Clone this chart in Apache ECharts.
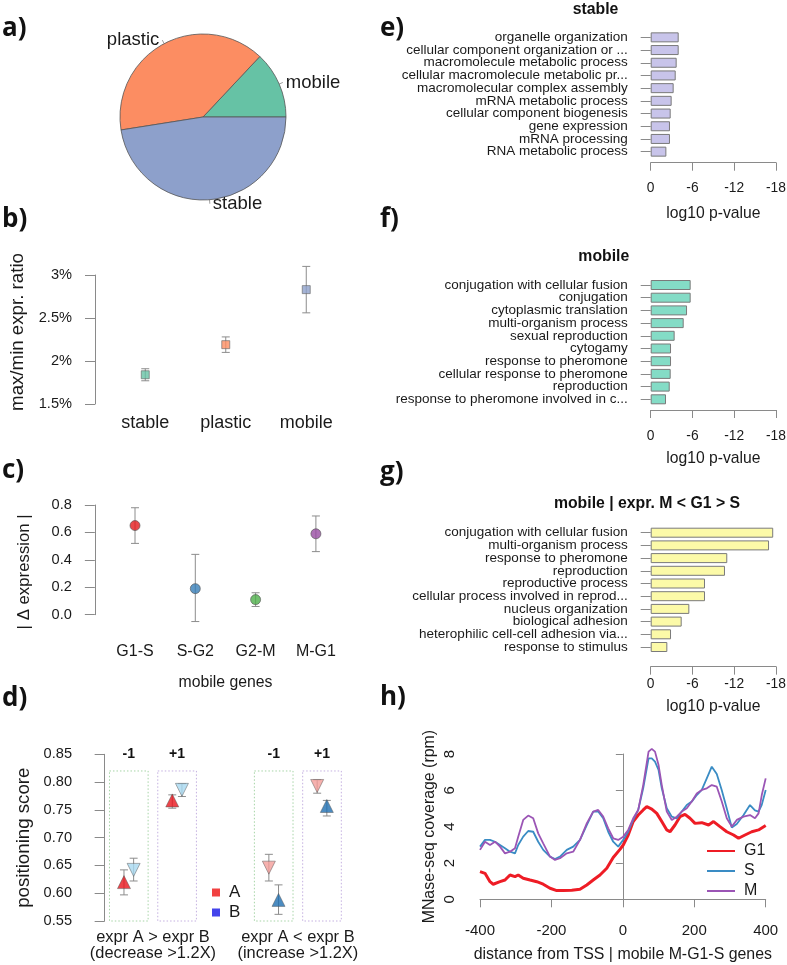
<!DOCTYPE html>
<html><head><meta charset="utf-8">
<script src="https://cdn.jsdelivr.net/npm/echarts@6/dist/echarts.min.js"></script>
<style>html,body{margin:0;padding:0;background:#fff}#c{width:787px;height:965px}</style>
</head><body><div id="c"></div>
<script>
// ---------- data ----------
const pieCats = ['mobile', 'plastic', 'stable'];
const pieVals = [13, 39.5, 47.5];

const ratioCats = ['stable', 'plastic', 'mobile'];
const ratioMean = [1.84, 2.19, 2.83];
const ratioLow = [1.77, 2.10, 2.56];
const ratioHigh = [1.91, 2.28, 3.10];

const phaseCats = ['G1-S', 'S-G2', 'G2-M', 'M-G1'];
const deltaMean = [0.65, 0.19, 0.11, 0.59];
const deltaLow = [0.52, -0.05, 0.06, 0.46];
const deltaHigh = [0.78, 0.44, 0.16, 0.72];

const boxLabels = ['-1', '+1', '-1', '+1'];
const groupLabels = ['expr A > expr B\n(decrease >1.2X)', 'expr A < expr B\n(increase >1.2X)'];
const posA = [0.620, 0.767, 0.646, 0.793];
const posALow = [0.597, 0.753, 0.622, 0.780];
const posAHigh = [0.642, 0.777, 0.670, 0.804];
const posB = [0.642, 0.786, 0.588, 0.757];
const posBLow = [0.622, 0.774, 0.562, 0.739];
const posBHigh = [0.663, 0.797, 0.615, 0.767];

const stableTerms = ['organelle organization', 'cellular component organization or ...', 'macromolecule metabolic process', 'cellular macromolecule metabolic pr...', 'macromolecular complex assembly', 'mRNA metabolic process', 'cellular component biogenesis', 'gene expression', 'mRNA processing', 'RNA metabolic process'];
const stableLogP = [-4.02, -4.02, -3.73, -3.59, -3.30, -3.01, -2.87, -2.77, -2.77, -2.25];
const mobileTerms = ['conjugation with cellular fusion', 'conjugation', 'cytoplasmic translation', 'multi-organism process', 'sexual reproduction', 'cytogamy', 'response to pheromone', 'cellular response to pheromone', 'reproduction', 'response to pheromone involved in c...'];
const mobileLogP = [-5.74, -5.74, -5.22, -4.74, -3.44, -2.92, -2.92, -2.87, -2.73, -2.20];
const mgsTerms = ['conjugation with cellular fusion', 'multi-organism process', 'response to pheromone', 'reproduction', 'reproductive process', 'cellular process involved in reprod...', 'nucleus organization', 'biological adhesion', 'heterophilic cell-cell adhesion via...', 'response to stimulus'];
const mgsLogP = [-17.6, -17.0, -11.0, -10.67, -7.8, -7.8, -5.55, -4.45, -2.92, -2.39];

const g1Dist = [-400,-386,-372,-363,-344,-330,-316,-302,-293,-279,-260,-241,-223,-204,-185,-167,-143,-120,-101,-83,-64,-45,-27,-8,1,15,29,43,57,67,81,95,109,123,132,146,160,174,188,202,221,240,254,272,291,310,324,342,361,380,400];
const g1Cov = [1.52,1.43,0.97,0.83,0.97,1.06,1.34,1.25,1.34,1.16,1.06,0.97,0.83,0.61,0.48,0.48,0.50,0.55,0.79,1.06,1.34,1.71,2.30,2.75,2.99,3.54,4.28,4.64,4.92,5.10,4.97,4.73,4.28,3.82,3.72,4.09,4.55,4.68,4.46,4.18,4.22,4.09,4.28,4.00,3.72,3.54,3.36,3.54,3.72,3.82,4.06];
const smDist = [-400,-386,-372,-358,-344,-330,-316,-302,-293,-279,-265,-251,-237,-223,-204,-190,-176,-157,-139,-120,-101,-83,-69,-55,-41,-27,-13,1,15,29,43,57,72,81,90,100,109,123,137,151,165,179,193,207,221,235,249,263,277,291,305,319,338,356,370,380,389,400];
const sCov = [2.90,3.27,3.27,3.17,2.99,2.81,2.62,2.53,2.99,3.45,3.76,3.72,3.17,2.72,2.35,2.22,2.35,2.72,2.90,3.27,4.09,4.83,4.83,4.46,3.72,3.17,2.90,3.27,3.72,4.37,4.92,6.11,7.76,7.76,7.58,7.12,6.11,5.01,4.55,4.46,4.83,5.19,5.38,5.74,6.02,6.66,7.30,6.90,6.00,5.00,3.95,4.15,4.64,5.19,4.90,4.83,5.20,6.02];
const mCov = [2.72,3.17,2.99,3.17,2.90,2.53,2.62,2.81,3.45,4.37,4.61,4.46,3.63,3.08,2.35,2.17,2.26,2.53,2.62,3.27,4.18,4.83,4.92,4.55,3.91,3.36,3.27,3.45,3.82,4.46,4.92,6.29,8.13,8.28,8.13,7.39,6.29,4.83,4.37,4.55,4.83,5.01,5.38,5.83,6.02,6.11,6.29,6.20,5.38,4.46,4.00,4.37,4.55,4.64,4.46,4.73,5.74,6.66];

// ---------- styling ----------
const FONT = '"Liberation Sans", Arial, sans-serif';
const AX = '#8a8a8a', TXT = '#1a1a1a', ERR = '#8c8c8c';
const pieColors = {mobile: '#66c2a5', plastic: '#fc8d62', stable: '#8da0cb'};
const ratioColors = {stable: '#66c2a5', plastic: '#fc8d62', mobile: '#8da0cb'};
const phaseColors = ['#e41a1c', '#377eb8', '#4daf4a', '#984ea3'];
const groupPos = [0.5, 1.5, 3.5, 4.5];

function errSeries(xi, yi, data) {
  return {
    type: 'custom', xAxisIndex: xi, yAxisIndex: yi, data: data, encode: {x: 0, y: [1, 2]}, z: 1, silent: true, clip: false,
    renderItem: function (p, api) {
      const x = api.value(0);
      const a = api.coord([x, api.value(1)]);
      const b = api.coord([x, api.value(2)]);
      const w = 4;
      const st = () => ({stroke: ERR, lineWidth: 1});
      return {type: 'group', children: [
        {type: 'line', shape: {x1: a[0], y1: a[1], x2: b[0], y2: b[1]}, style: st()},
        {type: 'line', shape: {x1: a[0] - w, y1: a[1], x2: a[0] + w, y2: a[1]}, style: st()},
        {type: 'line', shape: {x1: b[0] - w, y1: b[1], x2: b[0] + w, y2: b[1]}, style: st()}
      ]};
    }
  };
}

function valueYAxis(gi, min, max, interval, offset, fmt, name, nameGap, nameSize, namePad) {
  return {
    type: 'value', gridIndex: gi, min: min, max: max, interval: interval, offset: offset,
    axisLine: {show: true, lineStyle: {color: AX, width: 1}},
    axisTick: {show: true, length: 10, lineStyle: {color: AX}},
    splitLine: {show: false},
    axisLabel: {formatter: fmt, fontSize: 14.6, color: TXT, margin: 23, fontFamily: FONT},
    name: name, nameLocation: 'middle', nameGap: nameGap,
    nameTextStyle: {fontSize: nameSize, color: TXT, fontFamily: FONT, padding: namePad}
  };
}

function barXAxis(gi, offset, labelMargin, nameGap) {
  return {
    type: 'value', gridIndex: gi, min: -18, max: 0, interval: 6, inverse: true, offset: offset,
    axisLine: {show: true, lineStyle: {color: AX}},
    axisTick: {show: true, length: 8, lineStyle: {color: AX}},
    splitLine: {show: false},
    axisLabel: {fontSize: 13.8, color: TXT, margin: labelMargin, fontFamily: FONT},
    name: 'log10 p-value', nameLocation: 'middle', nameGap: nameGap,
    nameTextStyle: {fontSize: 15.7, color: TXT, fontFamily: FONT}
  };
}

function barYAxis(gi, terms) {
  return {
    type: 'category', gridIndex: gi, data: terms, inverse: true,
    axisLine: {show: false},
    axisTick: {show: true, length: 10, alignWithLabel: true, lineStyle: {color: AX}},
    axisLabel: {interval: 0, fontSize: 13.5, color: TXT, margin: 23, fontFamily: FONT}
  };
}

function barSeries(gi, vals, color) {
  return {
    type: 'bar', xAxisIndex: gi, yAxisIndex: gi, data: vals, barWidth: 10,
    itemStyle: {color: color, borderColor: '#7a7a7a', borderWidth: 1}
  };
}

const panelFont = 'bold 26px "Open Sans", "Liberation Sans", sans-serif';
function panelLabel(t, x, y) {
  return {type: 'text', x: x, y: y, style: {text: t, font: panelFont, fill: '#111', align: 'left', verticalAlign: 'middle'}};
}
function titleText(t, x, y) {
  return {type: 'text', x: x, y: y, style: {text: t, font: 'bold 15.8px ' + FONT, fill: '#111', align: 'center', verticalAlign: 'middle'}};
}

const option = {
  animation: false,
  textStyle: {fontFamily: FONT},
  graphic: [
    panelLabel('a)', 2, 29), panelLabel('b)', 2, 220), panelLabel('c)', 2, 471), panelLabel('d)', 2, 699),
    panelLabel('e)', 380, 29), panelLabel('f)', 380, 220), panelLabel('g)', 380, 473), panelLabel('h)', 380, 698),
    titleText('stable', 595.5, 10), titleText('mobile', 603.8, 257), titleText('mobile | expr. M < G1 > S', 647, 504)
  ],
  legend: [
    {data: ['A', 'B'], orient: 'vertical', left: 212, top: 884, padding: 0, icon: 'rect', itemWidth: 8, itemHeight: 8, itemGap: 3,
     itemStyle: {borderWidth: 0},
     textStyle: {fontSize: 17, color: TXT, fontFamily: FONT, padding: [0, 0, 0, 4]}, selectedMode: false},
    {data: ['G1', 'S', 'M'], orient: 'vertical', left: 706, top: 843, padding: 0, itemWidth: 28, itemHeight: 14, itemGap: 4,
     itemStyle: {opacity: 0},
     textStyle: {fontSize: 16, color: TXT, fontFamily: FONT, padding: [0, 0, 0, 4]}, selectedMode: false}
  ],
  grid: [
    {left: 105, top: 275, width: 241.5, height: 129, outerBoundsMode: 'none'},
    {left: 104.85, top: 505, width: 241.2, height: 109.7, outerBoundsMode: 'none'},
    {left: 104.65, top: 754.3, width: 241.5, height: 166.7, outerBoundsMode: 'none'},
    {left: 650.7, top: 31, width: 125.3, height: 127, outerBoundsMode: 'none'},
    {left: 650.7, top: 278.65, width: 125.3, height: 127, outerBoundsMode: 'none'},
    {left: 650.7, top: 526.35, width: 125.3, height: 127, outerBoundsMode: 'none'},
    {left: 480, top: 754, width: 285.7, height: 145.3, outerBoundsMode: 'none'}
  ],
  xAxis: [
    {type: 'category', gridIndex: 0, data: ratioCats, axisLine: {show: false}, axisTick: {show: false},
     axisLabel: {interval: 0, fontSize: 18, color: TXT, margin: 10, fontFamily: FONT}},
    {type: 'category', gridIndex: 1, data: phaseCats, axisLine: {show: false}, axisTick: {show: false},
     axisLabel: {interval: 0, fontSize: 16, color: TXT, margin: 29, fontFamily: FONT},
     name: 'mobile genes', nameLocation: 'middle', nameGap: 60, nameTextStyle: {fontSize: 15.8, color: TXT, fontFamily: FONT}},
    {type: 'value', gridIndex: 2, min: 0, max: 5, axisLine: {show: false}, axisTick: {show: false}, splitLine: {show: false},
     axisLabel: {customValues: [1, 4], formatter: v => (v < 2.5 ? groupLabels[0] : groupLabels[1]),
       fontSize: 16.4, lineHeight: 16, color: TXT, margin: 8, fontFamily: FONT}},
    barXAxis(3, 4.7, 18.6, 43),
    barXAxis(4, 4.35, 19, 41),
    barXAxis(5, 13.3, 10.3, 32),
    {type: 'value', gridIndex: 6, min: -400, max: 400, interval: 200, offset: 5.7,
     axisLine: {show: true, lineStyle: {color: AX}}, axisTick: {show: true, length: 8, lineStyle: {color: AX}}, splitLine: {show: false},
     axisLabel: {fontSize: 15, color: TXT, margin: 18.7, fontFamily: FONT},
     name: 'distance from TSS | mobile M-G1-S genes', nameLocation: 'middle', nameGap: 42,
     nameTextStyle: {fontSize: 15.9, color: TXT, fontFamily: FONT}}
  ],
  yAxis: [
    valueYAxis(0, 1.5, 3, 0.5, 10, v => v + '%', 'max/min expr. ratio', 68, 18.7, [0, 0, 0, 15]),
    valueYAxis(1, 0, 0.8, 0.2, 10, v => v.toFixed(1), '| \u0394 expression |', 62, 16.8, [0, 24, 0, 0]),
    valueYAxis(2, 0.55, 0.85, 0.05, 9.65, v => v.toFixed(2), 'positioning score', 62, 18.7, 0),
    barYAxis(3, stableTerms),
    barYAxis(4, mobileTerms),
    barYAxis(5, mgsTerms),
    {type: 'value', gridIndex: 6, min: 0, max: 8, interval: 2, offset: 11,
     axisLine: {show: true, lineStyle: {color: AX}}, axisTick: {show: true, length: 7, lineStyle: {color: AX}}, splitLine: {show: false},
     axisLabel: {rotate: 90, fontSize: 15, color: TXT, margin: 12, fontFamily: FONT},
     name: 'MNase-seq coverage (rpm)', nameLocation: 'middle', nameGap: 31,
     nameTextStyle: {fontSize: 15.9, color: TXT, fontFamily: FONT}}
  ],
  series: [
    {type: 'pie', center: [203, 117], radius: 83, startAngle: 0, clockwise: false, avoidLabelOverlap: false,
     data: pieCats.map((c, i) => ({name: c, value: pieVals[i], itemStyle: {color: pieColors[c]}})),
     itemStyle: {borderColor: '#555', borderWidth: 0.8},
     label: {show: true, position: 'outside', fontSize: 18.5, color: TXT, fontFamily: FONT, distanceToLabelLine: 3},
     labelLine: {show: true, length: 4, length2: 0, lineStyle: {color: '#888', width: 0.8}},
     emphasis: {disabled: true}},

    errSeries(0, 0, ratioCats.map((c, i) => [i, ratioLow[i], ratioHigh[i]])),
    {type: 'scatter', xAxisIndex: 0, yAxisIndex: 0, symbol: 'rect', symbolSize: 8, clip: false, z: 3,
     data: ratioCats.map((c, i) => ({value: [i, ratioMean[i]], itemStyle: {color: ratioColors[c]}})),
     itemStyle: {borderColor: '#666', borderWidth: 0.8}},

    errSeries(1, 1, phaseCats.map((c, i) => [i, deltaLow[i], deltaHigh[i]])),
    {type: 'scatter', xAxisIndex: 1, yAxisIndex: 1, symbol: 'circle', symbolSize: 10, clip: false, z: 3,
     data: phaseCats.map((c, i) => ({value: [i, deltaMean[i]], itemStyle: {color: phaseColors[i]}})),
     itemStyle: {borderColor: '#555', borderWidth: 0.8}},

    {type: 'custom', xAxisIndex: 2, yAxisIndex: 2, silent: true, clip: false, z: 0,
     data: groupPos.map((p, i) => [p, i]),
     renderItem: function (p, api) {
       const pos = api.value(0), idx = api.value(1);
       const tl = api.coord([pos - 0.4, 0.82]);
       const br = api.coord([pos + 0.4, 0.55]);
       const tp = api.coord([pos, 0.85]);
       return {type: 'group', children: [
         {type: 'rect', shape: {x: tl[0], y: tl[1], width: br[0] - tl[0], height: br[1] - tl[1]},
          style: {fill: 'none', stroke: idx % 2 ? '#c4b0e0' : '#a6d4a6', lineWidth: 1, lineDash: [1.5, 2]}},
         {type: 'text', x: tp[0], y: tp[1], style: {text: boxLabels[idx], fill: '#111', font: 'bold 14px ' + FONT, align: 'center', verticalAlign: 'middle'}}
       ]};
     }},
    errSeries(2, 2, groupPos.map((p, i) => [p - 0.1, posALow[i], posAHigh[i]])),
    errSeries(2, 2, groupPos.map((p, i) => [p + 0.1, posBLow[i], posBHigh[i]])),
    {name: 'A', type: 'scatter', xAxisIndex: 2, yAxisIndex: 2, symbol: 'triangle', symbolSize: 13, clip: false, z: 3,
     itemStyle: {color: '#ee1111', borderColor: '#555', borderWidth: 0.6},
     data: groupPos.map((p, i) => (i < 2
       ? {value: [p - 0.1, posA[i]], itemStyle: {color: '#e8141c'}}
       : {value: [p - 0.1, posA[i]], symbolRotate: 180, itemStyle: {color: '#f49e9a'}}))},
    {name: 'B', type: 'scatter', xAxisIndex: 2, yAxisIndex: 2, symbol: 'triangle', symbolSize: 13, clip: false, z: 3,
     itemStyle: {color: '#1515e6', borderColor: '#555', borderWidth: 0.6},
     data: groupPos.map((p, i) => (i < 2
       ? {value: [p + 0.1, posB[i]], symbolRotate: 180, itemStyle: {color: '#a8d8f0'}}
       : {value: [p + 0.1, posB[i]], itemStyle: {color: '#1f6fb2'}}))},

    barSeries(3, stableLogP, '#c8c4ea'),
    barSeries(4, mobileLogP, '#84dcc6'),
    barSeries(5, mgsLogP, '#fcfaa8'),

    {name: 'G1', type: 'line', xAxisIndex: 6, yAxisIndex: 6, symbol: 'none', clip: false,
     data: g1Dist.map((d, i) => [d, g1Cov[i]]), lineStyle: {color: '#ee1c25', width: 3}, itemStyle: {color: '#ee1c25'}},
    {name: 'S', type: 'line', xAxisIndex: 6, yAxisIndex: 6, symbol: 'none', clip: false,
     data: smDist.map((d, i) => [d, sCov[i]]), lineStyle: {color: '#3a8cc4', width: 1.8}, itemStyle: {color: '#3a8cc4'}},
    {name: 'M', type: 'line', xAxisIndex: 6, yAxisIndex: 6, symbol: 'none', clip: false,
     data: smDist.map((d, i) => [d, mCov[i]]), lineStyle: {color: '#9b55b5', width: 1.8}, itemStyle: {color: '#9b55b5'}}
  ]
};

const chart = echarts.init(document.getElementById('c'), null, {renderer: 'canvas', width: 787, height: 965});
chart.setOption(option);
</script>
</body></html>
